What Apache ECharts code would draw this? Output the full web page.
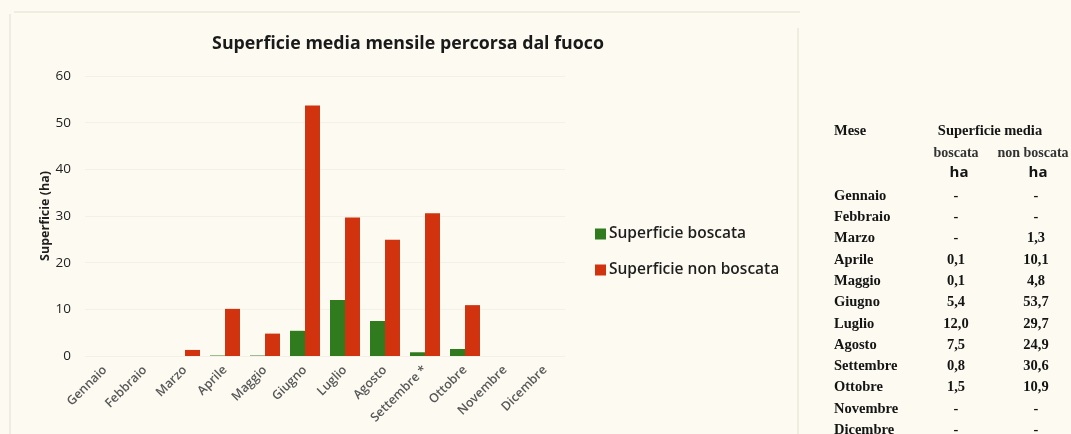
<!DOCTYPE html>
<html>
<head>
<meta charset="utf-8">
<script src="https://cdn.jsdelivr.net/npm/echarts@6/dist/echarts.min.js"></script>
<style>
  html, body { margin: 0; padding: 0; background: #fcfaf1; }
  #chart { width: 1071px; height: 434px; }
</style>
</head>
<body>
<div id="chart"></div>
<script>
// Monthly average burnt area (ha)
const months = ['Gennaio', 'Febbraio', 'Marzo', 'Aprile', 'Maggio', 'Giugno',
                'Luglio', 'Agosto', 'Settembre', 'Ottobre', 'Novembre', 'Dicembre'];
const axisLabels = ['Gennaio', 'Febbraio', 'Marzo', 'Aprile', 'Maggio', 'Giugno',
                    'Luglio', 'Agosto', 'Settembre *', 'Ottobre', 'Novembre', 'Dicembre'];
const boscata    = [null, null, null, 0.1, 0.1, 5.4, 12.0, 7.5, 0.8, 1.5, null, null];
const nonBoscata = [null, null, 1.3, 10.1, 4.8, 53.7, 29.7, 24.9, 30.6, 10.9, null, null];
const yTicks = [0, 10, 20, 30, 40, 50, 60];

const GREEN = '#2f7b1e';
const RED = '#d2330f';
const SANS = '"Open Sans", "Noto Sans", sans-serif';
const SERIF = '"Liberation Serif", "DejaVu Serif", serif';

const fmt = v => v == null ? '-' : v.toFixed(1).replace('.', ',');

// Summary table beside the chart
const tableEls = [];
const txt = (x, y, s, opts) => tableEls.push({
  type: 'text', x: x, y: y,
  style: Object.assign({
    text: s, fill: '#141414', font: 'bold 14.5px ' + SERIF,
    textAlign: 'left', textVerticalAlign: 'middle'
  }, opts || {})
});
const colMonth = 834, colB = 956, colNB = 1036;
txt(colMonth, 131, 'Mese');
txt(990, 131, 'Superficie media', { textAlign: 'center' });
txt(colB, 153, 'boscata', { textAlign: 'center', font: 'bold 14px ' + SERIF, fill: '#333' });
txt(colNB - 3, 153, 'non boscata', { textAlign: 'center', font: 'bold 14px ' + SERIF, fill: '#333' });
txt(colB + 3, 173, 'ha', { textAlign: 'center', font: 'bold 15px ' + SANS });
txt(colNB + 2, 173, 'ha', { textAlign: 'center', font: 'bold 15px ' + SANS });
months.forEach((m, i) => {
  const y = 196 + i * 21.3;
  txt(colMonth, y, m);
  txt(colB, y, fmt(boscata[i]), { textAlign: 'center' });
  txt(colNB, y, fmt(nonBoscata[i]), { textAlign: 'center' });
});

// Faint frame around the chart panel
const frame = [
  { type: 'line', shape: { x1: 14, y1: 12, x2: 800, y2: 12 } },
  { type: 'line', shape: { x1: 10, y1: 14, x2: 10, y2: 434 } },
  { type: 'line', shape: { x1: 798, y1: 28, x2: 798, y2: 434 } }
].map(l => Object.assign(l, { silent: true, style: { stroke: '#ebe8dc', lineWidth: 1.5 } }));

const chart = echarts.init(document.getElementById('chart'));
chart.setOption({
  backgroundColor: '#fcfaf1',
  animation: false,
  title: {
    text: 'Superficie media mensile percorsa dal fuoco',
    left: 403, top: 30, textAlign: 'center',
    textStyle: { fontFamily: SANS, fontWeight: 'bold', fontSize: 17.8, color: '#1a1a1a' }
  },
  legend: {
    orient: 'vertical',
    left: 590, top: 221,
    itemWidth: 11, itemHeight: 11, itemGap: 20,
    icon: 'rect',
    textStyle: { fontFamily: SANS, fontWeight: 600, fontSize: 15.5, color: '#1e1e1e', padding: [0, 0, 0, -2] },
    data: ['Superficie boscata', 'Superficie non boscata']
  },
  grid: { left: 85, right: 506, top: 76, bottom: 78 },
  xAxis: {
    type: 'category',
    data: axisLabels,
    axisLine: { show: false },
    axisTick: { show: false },
    axisLabel: {
      interval: 0, rotate: 45, margin: 12,
      fontFamily: SANS, fontWeight: 600, fontSize: 12.5, color: '#585858'
    }
  },
  yAxis: {
    type: 'value',
    min: yTicks[0], max: yTicks[yTicks.length - 1], interval: 10,
    name: 'Superficie (ha)',
    nameLocation: 'middle', nameGap: 30, nameRotate: 90,
    nameTextStyle: { fontFamily: SANS, fontWeight: 'bold', fontSize: 12.5, color: '#1e1e1e' },
    axisLabel: { fontFamily: SANS, fontWeight: 500, fontSize: 13.5, color: '#222', margin: 14 },
    axisLine: { show: false },
    axisTick: { show: false },
    splitLine: { show: true, lineStyle: { color: '#f3f0e6', width: 1 } }
  },
  series: [
    {
      name: 'Superficie boscata', type: 'bar', data: boscata,
      barWidth: 15, barGap: '0%',
      itemStyle: { color: GREEN }
    },
    {
      name: 'Superficie non boscata', type: 'bar', data: nonBoscata,
      barWidth: 15, barGap: '0%',
      itemStyle: { color: RED }
    }
  ],
  graphic: frame.concat(tableEls)
});
</script>
</body>
</html>
